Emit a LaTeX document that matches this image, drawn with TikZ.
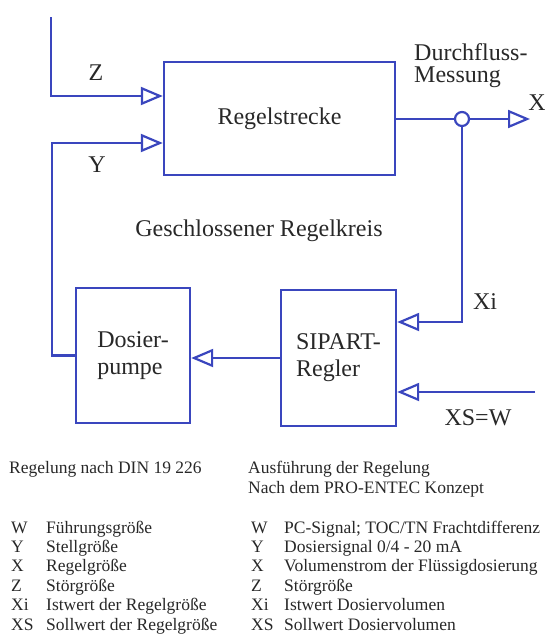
\documentclass[tikz,border=0pt]{standalone}
\usepackage{fontspec}
\setmainfont{Liberation Serif}
\usetikzlibrary{arrows.meta}
\definecolor{linie}{RGB}{58,70,190}
\definecolor{schrift}{RGB}{40,40,40}
\begin{document}
\begin{tikzpicture}[x=1pt,y=-1pt,line width=2.4pt,
  block/.style={draw=linie,fill=white,text=schrift,align=left,inner sep=0pt,
    font=\fontsize{24}{27}\selectfont},
  lbl/.style={text=schrift,inner sep=0pt,font=\fontsize{24}{22}\selectfont},
  leg/.style={text=schrift,inner sep=0pt,anchor=base west,font=\fontsize{17.5}{20}\selectfont},
  pfeil/.style={draw=linie,-{Triangle[open,length=22pt,width=18pt,line width=2.2pt]}}]
\useasboundingbox (0,0) rectangle (545,635);
% Bloecke
\node[block,minimum width=231pt,minimum height=113pt] (strecke) at (279.5,118.5) {Regelstrecke};
\node[block,minimum width=115pt,minimum height=136pt] (regler) at (338.5,358) {SIPART-\\Regler};
\node[block,minimum width=114pt,minimum height=135pt] (pumpe) at (133,355.5) {Dosier-\\pumpe};
\node[circle,draw=linie,fill=white,minimum size=14pt,inner sep=0pt,line width=2.2pt] (mess) at (462,119) {};
% Hilfspunkte
\coordinate (zein) at (51,17);
\coordinate (zhoehe) at (0,96);
\coordinate (yhoehe) at (0,143);
\coordinate (yecke) at (52,0);
\coordinate (xaus) at (530,119);
\coordinate (xihoehe) at (0,322);
\coordinate (wein) at (535,392);
% Verbindungen
\draw[pfeil] (zein) |- (strecke.west |- zhoehe);
\draw[pfeil] (pumpe.west) -| (yecke |- yhoehe) -- (strecke.west |- yhoehe);
\draw[linie] (strecke.east |- mess) -- (mess);
\draw[pfeil] (mess) -- (xaus);
\draw[pfeil] (mess) |- (regler.east |- xihoehe);
\draw[pfeil] (wein) -- (regler.east |- wein);
\draw[pfeil] (regler.west) -- (pumpe.east |- regler.west);
% Beschriftung
\node[lbl] (zlbl) at (96,73) {Z};
\node[lbl] (ylbl) at (97,165) {Y};
\node[lbl] (xlbl) at (537,103) {X};
\node[lbl] (xilbl) at (485,302) {Xi};
\node[lbl] (wlbl) at (478,418) {XS=W};
\node[lbl,align=left,anchor=north west] (messlbl) at (413,42) {Durchfluss-\\Messung};
\node[lbl] (kreis) at (259,231) {Geschlossener Regelkreis};
% Legende
\node[leg] (titel) at (8,473) {Regelung nach DIN 19 226};
\node[leg] (titel2) at (247,473) {Ausführung der Regelung};
\node[leg] (titel3) at (247,493) {Nach dem PRO-ENTEC Konzept};
\foreach \kz/\links/\rechts [count=\i from 0] in {
  W/Führungsgröße/{PC-Signal; TOC/TN Frachtdifferenz},
  Y/Stellgröße/{Dosiersignal 0/4 - 20 mA},
  X/Regelgröße/{Volumenstrom der Flüssigdosierung},
  Z/Störgröße/{Störgröße},
  Xi/Istwert der Regelgröße/{Istwert Dosiervolumen},
  XS/Sollwert der Regelgröße/{Sollwert Dosiervolumen}}{
  \node[leg] (lk\i) at (10,{533+19.4*\i}) {\kz};
  \node[leg] (lt\i) at (45,{533+19.4*\i}) {\links};
  \node[leg] (rk\i) at (250,{533+19.4*\i}) {\kz};
  \node[leg] (rt\i) at (283,{533+19.4*\i}) {\rechts};
}
\end{tikzpicture}
\end{document}
